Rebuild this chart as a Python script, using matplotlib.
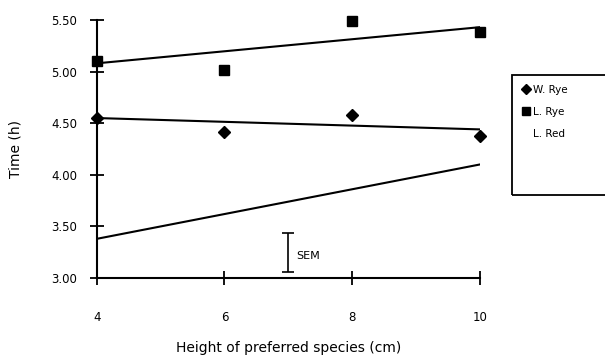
import matplotlib
matplotlib.use('Agg')
import matplotlib.pyplot as plt
from matplotlib.lines import Line2D
from matplotlib.patches import Rectangle
import numpy as np

# data
heights = [4, 6, 8, 10]
w_rye = [4.55, 4.41, 4.58, 4.38]
l_rye = [5.10, 5.02, 5.49, 5.38]
trend_x = [4, 10]
w_rye_trend = [4.55, 4.44]
l_rye_trend = [5.08, 5.43]
l_red_trend = [3.38, 4.10]
sem_x = 7
sem_mid = 3.25
sem_half = 0.19

fig = plt.figure(figsize=(6.05, 3.63), dpi=100)
ax = fig.add_axes([0.160, 0.234, 0.633, 0.711])

ax.plot(trend_x, l_rye_trend, color='black', lw=1.5)
ax.plot(trend_x, w_rye_trend, color='black', lw=1.5)
ax.plot(trend_x, l_red_trend, color='black', lw=1.5)
ax.plot(heights, w_rye, linestyle='none', marker='D', ms=6, color='black', clip_on=False)
ax.plot(heights, l_rye, linestyle='none', marker='s', ms=7, color='black', clip_on=False)

ax.errorbar([sem_x], [sem_mid], yerr=[sem_half], color='black', lw=1.2, capsize=4, capthick=1.2)
ax.text(sem_x + 0.12, sem_mid - 0.04, 'SEM', fontsize=8, va='center')

ax.set_xlim(4, 10)
ax.set_ylim(3, 5.5)
ax.set_xticks([4, 6, 8, 10])
ax.set_yticks([3.0, 3.5, 4.0, 4.5, 5.0, 5.5])
ax.set_yticklabels(['3.00', '3.50', '4.00', '4.50', '5.00', '5.50'])
for s in ['top', 'right']:
    ax.spines[s].set_visible(False)
for s in ['left', 'bottom']:
    ax.spines[s].set_linewidth(1.5)
ax.tick_params(axis='both', direction='inout', length=10, width=1.3, labelsize=8.5)
ax.tick_params(axis='y', pad=9)
ax.tick_params(axis='x', pad=19)

ax.set_xlabel('Height of preferred species (cm)', fontsize=10, labelpad=12)
ax.set_ylabel('Time (h)', fontsize=10, labelpad=21)

# legend box, running off the right edge as in the original
fig.patches.append(Rectangle((512 / 605, 1 - 195 / 363), 0.3, 120 / 363,
                             transform=fig.transFigure, fill=False,
                             edgecolor='black', lw=1.3))
handles = [
    Line2D([], [], linestyle='none', marker='D', ms=5, color='black'),
    Line2D([], [], linestyle='none', marker='s', ms=6, color='black'),
    Line2D([], [], linestyle='none', marker=None, color='black'),
]
fig.legend(handles, ['W. Rye', 'L. Rye', 'L. Red'], loc='upper left',
           bbox_to_anchor=(522 / 605, 1 - 85 / 363), fontsize=7.5, frameon=False,
           handlelength=0.8, handletextpad=0.3, labelspacing=1.15, borderpad=0,
           borderaxespad=0)

fig.savefig('out.png', dpi=100)
